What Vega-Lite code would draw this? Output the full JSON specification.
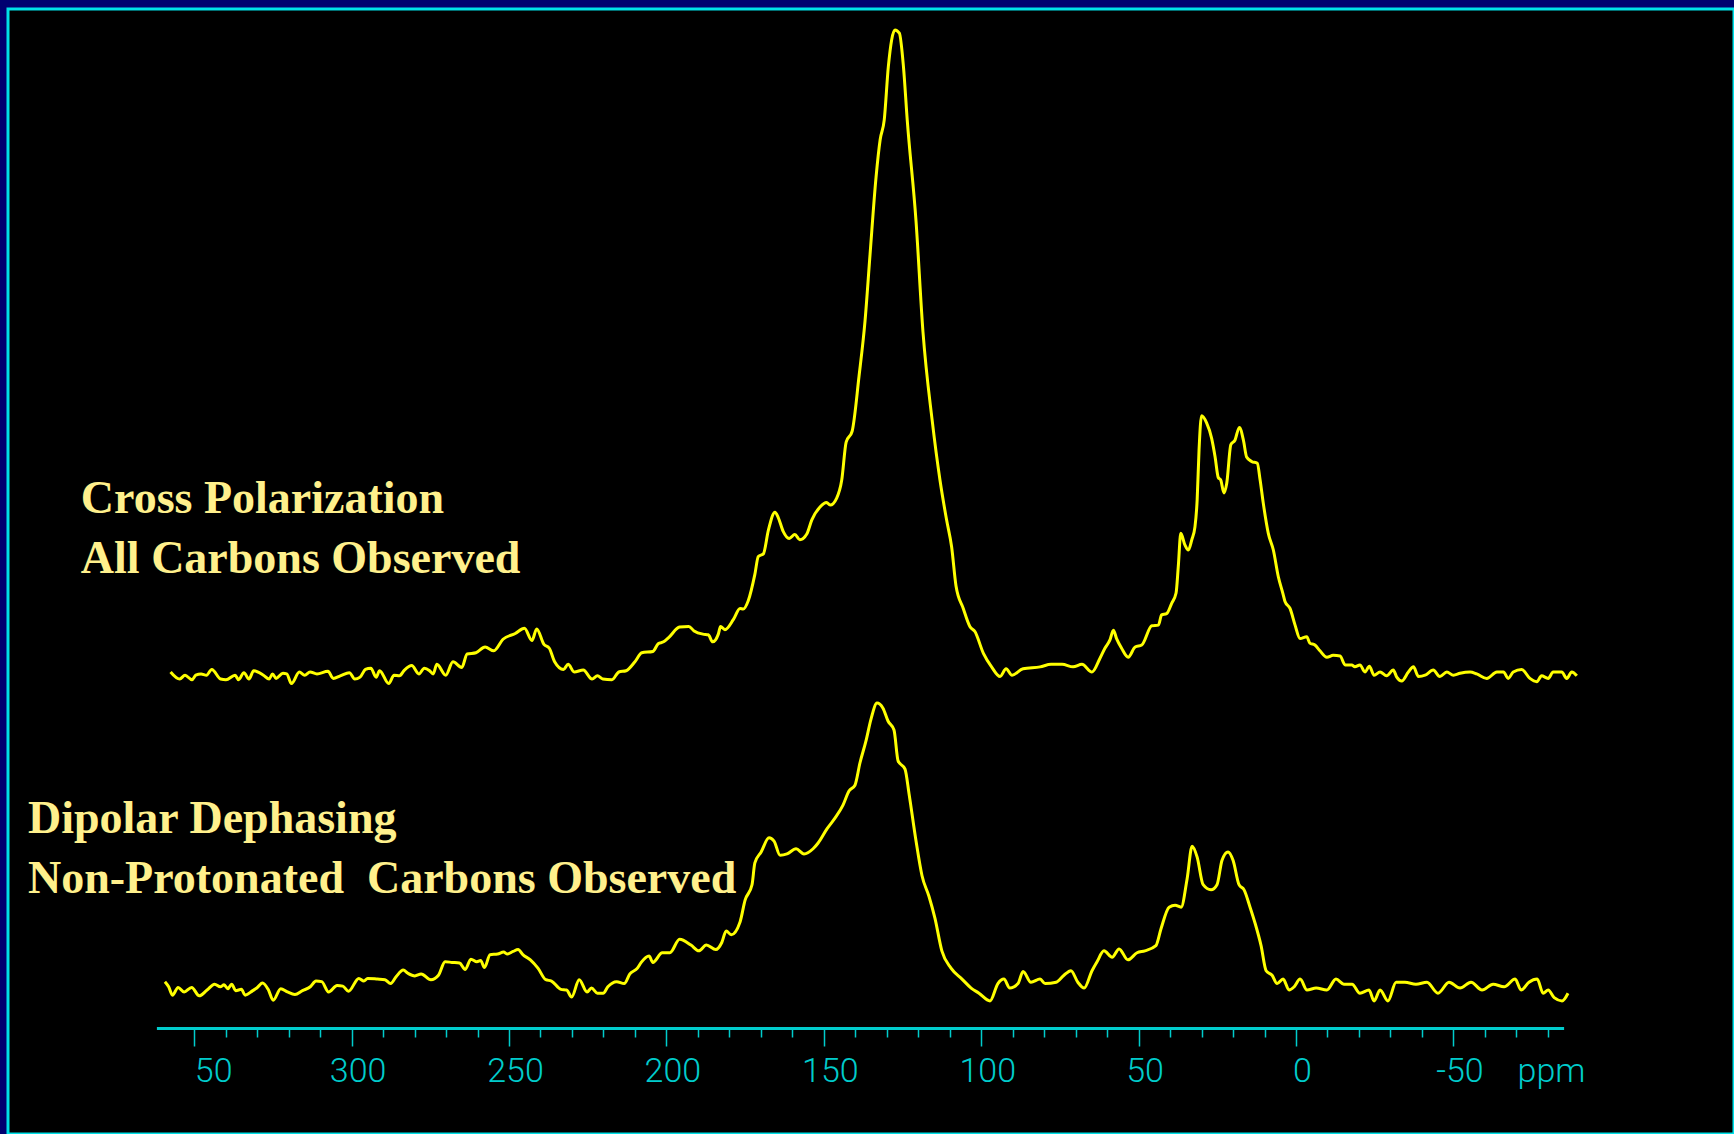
{
  "$schema": "https://vega.github.io/schema/vega-lite/v6.json",
  "width": 1726,
  "height": 1125,
  "autosize": "none",
  "padding": {"left": 8, "top": 9, "right": 0, "bottom": 0},
  "background": "#000070",
  "config": {"view": {"fill": "#000000", "stroke": "#00E0E8", "strokeWidth": 3}},
  "datasets": {
    "cp": [
      {"ppm":357.5,"I":0.0},{"ppm":354.6,"I":-1.1},{"ppm":352.9,"I":-0.5},{"ppm":350.7,"I":-1.2},{"ppm":349.5,"I":-0.5},{"ppm":347.8,"I":-0.3},{"ppm":346.1,"I":-0.5},{"ppm":344.4,"I":0.4},{"ppm":341.6,"I":-1.1},{"ppm":339.9,"I":-1.2},{"ppm":337.0,"I":-0.5},{"ppm":335.9,"I":-1.2},{"ppm":334.2,"I":-0.1},{"ppm":332.6,"I":-1.1},{"ppm":331.1,"I":0.2},{"ppm":328.0,"I":-0.5},{"ppm":326.2,"I":-1.1},{"ppm":325.1,"I":-0.3},{"ppm":324.0,"I":-1.0},{"ppm":321.8,"I":-0.2},{"ppm":320.6,"I":-0.3},{"ppm":319.1,"I":-1.8},{"ppm":316.6,"I":0.0},{"ppm":314.9,"I":-0.5},{"ppm":313.2,"I":0.0},{"ppm":311.0,"I":-0.3},{"ppm":307.5,"I":0.1},{"ppm":305.8,"I":-1.0},{"ppm":303.6,"I":-0.6},{"ppm":300.7,"I":-0.1},{"ppm":299.0,"I":-1.1},{"ppm":297.3,"I":-0.8},{"ppm":295.6,"I":0.4},{"ppm":293.9,"I":0.6},{"ppm":292.2,"I":-0.8},{"ppm":291.1,"I":0.2},{"ppm":288.2,"I":-1.8},{"ppm":286.5,"I":-0.5},{"ppm":284.8,"I":-0.6},{"ppm":283.2,"I":0.3},{"ppm":280.9,"I":1.0},{"ppm":278.6,"I":-0.3},{"ppm":276.9,"I":0.6},{"ppm":275.2,"I":0.2},{"ppm":274.1,"I":-0.3},{"ppm":272.9,"I":1.2},{"ppm":270.1,"I":-0.5},{"ppm":267.8,"I":1.6},{"ppm":265.0,"I":0.7},{"ppm":263.3,"I":2.8},{"ppm":260.5,"I":3.0},{"ppm":257.6,"I":3.9},{"ppm":254.8,"I":3.3},{"ppm":251.9,"I":5.1},{"ppm":248.0,"I":6.0},{"ppm":245.1,"I":6.8},{"ppm":242.7,"I":4.9},{"ppm":241.2,"I":6.7},{"ppm":238.9,"I":4.3},{"ppm":237.2,"I":3.7},{"ppm":235.5,"I":1.6},{"ppm":232.7,"I":0.4},{"ppm":231.2,"I":1.2},{"ppm":229.3,"I":0.0},{"ppm":226.4,"I":0.3},{"ppm":223.6,"I":-1.1},{"ppm":221.9,"I":-0.6},{"ppm":220.2,"I":-1.1},{"ppm":217.3,"I":-1.2},{"ppm":215.1,"I":0.0},{"ppm":212.8,"I":0.2},{"ppm":210.0,"I":1.6},{"ppm":207.8,"I":3.0},{"ppm":204.3,"I":3.2},{"ppm":202.6,"I":4.4},{"ppm":200.9,"I":4.7},{"ppm":199.2,"I":5.4},{"ppm":195.8,"I":7.0},{"ppm":192.9,"I":7.1},{"ppm":191.2,"I":6.4},{"ppm":188.4,"I":5.9},{"ppm":186.7,"I":5.8},{"ppm":185.3,"I":4.7},{"ppm":183.5,"I":5.9},{"ppm":182.8,"I":7.1},{"ppm":181.4,"I":6.6},{"ppm":178.7,"I":8.2},{"ppm":176.6,"I":9.9},{"ppm":175.6,"I":9.8},{"ppm":174.0,"I":11.1},{"ppm":171.9,"I":15.2},{"ppm":170.8,"I":18.0},{"ppm":169.2,"I":18.4},{"ppm":167.6,"I":22.1},{"ppm":165.5,"I":24.9},{"ppm":164.5,"I":24.1},{"ppm":162.9,"I":21.9},{"ppm":161.0,"I":20.8},{"ppm":159.2,"I":21.4},{"ppm":157.6,"I":20.6},{"ppm":155.4,"I":21.5},{"ppm":153.8,"I":23.7},{"ppm":151.2,"I":25.7},{"ppm":149.1,"I":26.4},{"ppm":148.0,"I":26.0},{"ppm":145.9,"I":27.1},{"ppm":144.3,"I":29.9},{"ppm":142.9,"I":35.8},{"ppm":141.0,"I":37.5},{"ppm":138.8,"I":46.1},{"ppm":136.9,"I":54.7},{"ppm":135.3,"I":65.1},{"ppm":133.4,"I":77.1},{"ppm":132.1,"I":82.9},{"ppm":130.8,"I":86.0},{"ppm":129.5,"I":94.3},{"ppm":127.4,"I":100.0},{"ppm":126.0,"I":99.5},{"ppm":124.7,"I":94.3},{"ppm":123.5,"I":86.0},{"ppm":120.7,"I":70.2},{"ppm":118.5,"I":53.0},{"ppm":115.6,"I":39.3},{"ppm":113.1,"I":29.9},{"ppm":111.0,"I":23.7},{"ppm":109.4,"I":19.5},{"ppm":108.0,"I":13.4},{"ppm":105.7,"I":9.9},{"ppm":103.6,"I":7.1},{"ppm":102.0,"I":6.3},{"ppm":99.3,"I":2.9},{"ppm":96.7,"I":0.8},{"ppm":94.0,"I":-0.7},{"ppm":92.1,"I":0.5},{"ppm":90.2,"I":-0.5},{"ppm":86.7,"I":0.5},{"ppm":81.3,"I":0.8},{"ppm":77.8,"I":1.2},{"ppm":74.3,"I":1.2},{"ppm":70.8,"I":0.8},{"ppm":68.0,"I":1.2},{"ppm":64.8,"I":0.0},{"ppm":62.3,"I":2.1},{"ppm":60.7,"I":3.7},{"ppm":59.1,"I":5.0},{"ppm":58.0,"I":6.5},{"ppm":57.0,"I":5.2},{"ppm":55.4,"I":3.7},{"ppm":53.3,"I":2.3},{"ppm":51.1,"I":3.9},{"ppm":49.0,"I":4.2},{"ppm":45.8,"I":7.2},{"ppm":43.7,"I":7.3},{"ppm":42.7,"I":8.9},{"ppm":41.1,"I":9.1},{"ppm":39.5,"I":10.7},{"ppm":38.1,"I":12.3},{"ppm":37.4,"I":16.4},{"ppm":36.6,"I":21.6},{"ppm":35.3,"I":19.8},{"ppm":34.2,"I":19.0},{"ppm":33.1,"I":20.6},{"ppm":32.1,"I":22.6},{"ppm":31.4,"I":26.8},{"ppm":30.8,"I":34.6},{"ppm":30.0,"I":39.9},{"ppm":28.4,"I":38.8},{"ppm":26.8,"I":36.4},{"ppm":25.7,"I":33.5},{"ppm":24.7,"I":30.3},{"ppm":23.9,"I":29.9},{"ppm":22.9,"I":27.9},{"ppm":22.0,"I":29.4},{"ppm":20.7,"I":35.4},{"ppm":19.4,"I":36.1},{"ppm":18.0,"I":38.1},{"ppm":16.7,"I":36.1},{"ppm":15.7,"I":33.5},{"ppm":14.1,"I":32.8},{"ppm":12.3,"I":32.5},{"ppm":11.4,"I":29.9},{"ppm":10.4,"I":26.3},{"ppm":8.8,"I":21.6},{"ppm":7.2,"I":19.0},{"ppm":5.6,"I":14.8},{"ppm":4.2,"I":12.3},{"ppm":3.5,"I":11.0},{"ppm":1.9,"I":9.9},{"ppm":0.3,"I":7.3},{"ppm":-1.3,"I":5.2},{"ppm":-3.4,"I":5.5},{"ppm":-4.4,"I":4.5},{"ppm":-6.0,"I":4.2},{"ppm":-7.6,"I":3.3},{"ppm":-9.8,"I":2.3},{"ppm":-11.8,"I":2.6},{"ppm":-14.0,"I":2.5},{"ppm":-15.6,"I":1.1},{"ppm":-17.7,"I":1.1},{"ppm":-18.7,"I":0.8},{"ppm":-20.3,"I":1.1},{"ppm":-21.9,"I":0.0},{"ppm":-23.3,"I":0.9},{"ppm":-24.8,"I":-0.5},{"ppm":-26.7,"I":0.0},{"ppm":-28.8,"I":-0.6},{"ppm":-30.9,"I":0.3},{"ppm":-32.0,"I":-0.8},{"ppm":-33.6,"I":-1.4},{"ppm":-35.7,"I":0.0},{"ppm":-37.3,"I":0.8},{"ppm":-38.9,"I":-0.7},{"ppm":-41.0,"I":-0.5},{"ppm":-43.6,"I":0.3},{"ppm":-45.7,"I":-0.7},{"ppm":-47.9,"I":0.0},{"ppm":-50.0,"I":-0.5},{"ppm":-52.1,"I":-0.2},{"ppm":-55.3,"I":0.0},{"ppm":-57.4,"I":-0.3},{"ppm":-60.6,"I":-1.0},{"ppm":-63.8,"I":0.0},{"ppm":-65.9,"I":0.0},{"ppm":-67.4,"I":-1.0},{"ppm":-69.0,"I":0.0},{"ppm":-71.7,"I":0.4},{"ppm":-74.3,"I":-1.0},{"ppm":-76.5,"I":-1.5},{"ppm":-78.0,"I":-0.6},{"ppm":-80.1,"I":-1.0},{"ppm":-81.7,"I":0.0},{"ppm":-84.4,"I":0.0},{"ppm":-86.0,"I":-1.0},{"ppm":-87.6,"I":0.0},{"ppm":-89.2,"I":-0.6}
    ],
    "dd": [
      {"ppm":359.3,"I":1.3},{"ppm":358.1,"I":0.5},{"ppm":356.9,"I":-0.8},{"ppm":355.1,"I":0.4},{"ppm":353.2,"I":-0.3},{"ppm":350.8,"I":0.4},{"ppm":348.4,"I":-0.9},{"ppm":345.9,"I":0.0},{"ppm":343.5,"I":0.9},{"ppm":341.7,"I":0.5},{"ppm":340.5,"I":0.8},{"ppm":339.3,"I":0.2},{"ppm":338.1,"I":0.9},{"ppm":336.8,"I":-0.1},{"ppm":335.0,"I":0.1},{"ppm":333.8,"I":-0.8},{"ppm":331.4,"I":-0.1},{"ppm":330.1,"I":0.3},{"ppm":328.3,"I":1.1},{"ppm":326.5,"I":0.1},{"ppm":324.9,"I":-1.6},{"ppm":322.5,"I":0.2},{"ppm":320.4,"I":-0.3},{"ppm":318.0,"I":-0.7},{"ppm":315.6,"I":-0.1},{"ppm":313.1,"I":0.5},{"ppm":311.3,"I":1.4},{"ppm":309.5,"I":1.3},{"ppm":307.3,"I":-0.3},{"ppm":304.6,"I":0.7},{"ppm":302.8,"I":0.6},{"ppm":301.0,"I":-0.2},{"ppm":297.7,"I":1.8},{"ppm":296.1,"I":1.4},{"ppm":294.9,"I":1.8},{"ppm":291.8,"I":1.7},{"ppm":289.4,"I":1.6},{"ppm":287.6,"I":1.0},{"ppm":285.8,"I":2.1},{"ppm":283.6,"I":3.1},{"ppm":282.1,"I":2.6},{"ppm":279.9,"I":2.2},{"ppm":277.9,"I":2.5},{"ppm":274.8,"I":1.6},{"ppm":272.4,"I":2.3},{"ppm":270.3,"I":4.4},{"ppm":268.1,"I":4.3},{"ppm":265.7,"I":4.2},{"ppm":263.9,"I":3.2},{"ppm":262.1,"I":4.8},{"ppm":260.2,"I":4.4},{"ppm":259.0,"I":4.6},{"ppm":257.8,"I":3.5},{"ppm":256.0,"I":5.5},{"ppm":253.6,"I":5.6},{"ppm":251.7,"I":5.9},{"ppm":250.5,"I":5.6},{"ppm":248.7,"I":6.0},{"ppm":247.1,"I":6.3},{"ppm":245.6,"I":5.5},{"ppm":243.2,"I":4.7},{"ppm":240.8,"I":3.4},{"ppm":238.3,"I":1.6},{"ppm":236.5,"I":1.4},{"ppm":233.5,"I":0.1},{"ppm":231.7,"I":0.0},{"ppm":230.1,"I":-1.1},{"ppm":227.7,"I":1.6},{"ppm":225.2,"I":-0.3},{"ppm":223.8,"I":0.3},{"ppm":221.9,"I":-0.5},{"ppm":220.1,"I":-0.5},{"ppm":218.6,"I":0.5},{"ppm":215.8,"I":1.3},{"ppm":213.4,"I":1.0},{"ppm":211.6,"I":2.5},{"ppm":209.2,"I":3.4},{"ppm":208.0,"I":4.3},{"ppm":205.5,"I":5.3},{"ppm":204.3,"I":4.3},{"ppm":201.3,"I":5.8},{"ppm":198.9,"I":5.8},{"ppm":195.8,"I":7.9},{"ppm":192.2,"I":7.0},{"ppm":189.7,"I":6.1},{"ppm":187.3,"I":7.0},{"ppm":184.3,"I":6.3},{"ppm":182.4,"I":7.4},{"ppm":181.0,"I":9.2},{"ppm":179.4,"I":8.6},{"ppm":176.6,"I":10.6},{"ppm":175.0,"I":14.0},{"ppm":172.8,"I":16.4},{"ppm":171.9,"I":19.8},{"ppm":169.9,"I":21.5},{"ppm":167.4,"I":23.7},{"ppm":165.8,"I":23.2},{"ppm":163.9,"I":21.0},{"ppm":161.7,"I":21.2},{"ppm":158.8,"I":22.0},{"ppm":156.3,"I":21.2},{"ppm":153.4,"I":22.0},{"ppm":151.8,"I":22.9},{"ppm":149.0,"I":25.1},{"ppm":146.4,"I":26.8},{"ppm":143.9,"I":28.8},{"ppm":142.0,"I":31.0},{"ppm":140.1,"I":31.9},{"ppm":138.5,"I":35.4},{"ppm":136.6,"I":38.8},{"ppm":135.0,"I":42.2},{"ppm":133.1,"I":44.7},{"ppm":131.2,"I":43.9},{"ppm":129.6,"I":41.9},{"ppm":127.7,"I":40.5},{"ppm":126.4,"I":35.7},{"ppm":124.2,"I":34.4},{"ppm":122.9,"I":30.5},{"ppm":120.7,"I":23.2},{"ppm":118.8,"I":17.8},{"ppm":116.6,"I":14.6},{"ppm":114.7,"I":11.2},{"ppm":112.5,"I":6.1},{"ppm":109.6,"I":3.4},{"ppm":106.1,"I":1.7},{"ppm":103.2,"I":0.3},{"ppm":100.7,"I":-0.5},{"ppm":97.2,"I":-1.7},{"ppm":94.7,"I":1.0},{"ppm":92.8,"I":1.7},{"ppm":90.9,"I":0.3},{"ppm":88.3,"I":1.0},{"ppm":86.7,"I":2.9},{"ppm":84.2,"I":1.2},{"ppm":81.3,"I":1.7},{"ppm":79.7,"I":1.0},{"ppm":76.2,"I":1.2},{"ppm":73.7,"I":2.3},{"ppm":71.5,"I":3.0},{"ppm":69.3,"I":1.2},{"ppm":67.3,"I":0.3},{"ppm":64.8,"I":3.0},{"ppm":63.2,"I":4.4},{"ppm":61.0,"I":6.1},{"ppm":58.4,"I":5.1},{"ppm":56.2,"I":6.4},{"ppm":53.4,"I":4.7},{"ppm":50.5,"I":5.8},{"ppm":48.0,"I":6.1},{"ppm":44.5,"I":6.9},{"ppm":42.9,"I":9.5},{"ppm":40.3,"I":12.9},{"ppm":38.4,"I":13.2},{"ppm":36.5,"I":12.9},{"ppm":34.6,"I":17.3},{"ppm":33.0,"I":22.4},{"ppm":31.4,"I":20.7},{"ppm":29.5,"I":16.4},{"ppm":27.0,"I":15.6},{"ppm":25.1,"I":16.4},{"ppm":23.5,"I":20.2},{"ppm":21.6,"I":21.5},{"ppm":20.0,"I":20.2},{"ppm":18.1,"I":16.4},{"ppm":16.5,"I":15.6},{"ppm":14.6,"I":12.9},{"ppm":13.0,"I":10.4},{"ppm":11.1,"I":6.9},{"ppm":9.5,"I":3.0},{"ppm":7.6,"I":2.3},{"ppm":6.0,"I":1.0},{"ppm":4.1,"I":1.7},{"ppm":2.2,"I":0.0},{"ppm":0.6,"I":0.5},{"ppm":-1.3,"I":1.7},{"ppm":-3.5,"I":0.0},{"ppm":-6.4,"I":0.3},{"ppm":-9.8,"I":0.0},{"ppm":-12.7,"I":1.7},{"ppm":-15.2,"I":0.9},{"ppm":-17.8,"I":0.9},{"ppm":-20.3,"I":-0.5},{"ppm":-23.2,"I":0.0},{"ppm":-24.8,"I":-1.7},{"ppm":-26.7,"I":0.0},{"ppm":-29.2,"I":-1.7},{"ppm":-31.8,"I":1.2},{"ppm":-34.6,"I":1.2},{"ppm":-38.1,"I":0.9},{"ppm":-41.6,"I":1.2},{"ppm":-45.1,"I":-0.5},{"ppm":-48.6,"I":1.2},{"ppm":-52.1,"I":0.3},{"ppm":-55.6,"I":1.2},{"ppm":-59.1,"I":0.0},{"ppm":-62.6,"I":0.9},{"ppm":-66.1,"I":0.5},{"ppm":-69.6,"I":1.7},{"ppm":-71.5,"I":0.0},{"ppm":-74.0,"I":1.2},{"ppm":-76.6,"I":1.7},{"ppm":-78.5,"I":-0.5},{"ppm":-80.1,"I":0.0},{"ppm":-82.0,"I":-1.2},{"ppm":-84.5,"I":-1.7},{"ppm":-86.4,"I":-0.5}
    ],
    "cpText": [
      {"ppm": 386.0, "I": 24.7, "label": "Cross Polarization"},
      {"ppm": 386.0, "I": 15.4, "label": "All Carbons Observed"}
    ],
    "ddText": [
      {"ppm": 402.8, "I": 24.5, "label": "Dipolar Dephasing"},
      {"ppm": 402.8, "I": 15.1, "label": "Non-Protonated \u00a0Carbons Observed"}
    ]
  },
  "encoding": {
    "x": {
      "field": "ppm",
      "type": "quantitative",
      "title": null,
      "scale": {"domain": [362, -85], "range": [148.4, 1555.6], "nice": false, "zero": false},
      "axis": {
        "values": [350,340,330,320,310,300,290,280,270,260,250,240,230,220,210,200,190,180,170,160,150,140,130,120,110,100,90,80,70,60,50,40,30,20,10,0,-10,-20,-30,-40,-50,-60,-70,-80,-81],
        "title": null,
        "grid": false,
        "offset": -106,
        "domainColor": "#00CCCC",
        "domainWidth": 3,
        "tickColor": "#00CCCC",
        "tickWidth": 1.5,
        "tickSize": {"condition": {"test": "datum.value % 50 == 0 || datum.value == -81", "value": 18}, "value": 9},
        "tickOpacity": {"condition": {"test": "datum.value == -81", "value": 0}, "value": 1},
        "labelExpr": "datum.value == 350 ? '50' : (datum.value == -81 ? 'ppm' : (datum.value % 50 == 0 ? '' + datum.value : ''))",
        "labelColor": "#00CCCC",
        "labelFont": "Roboto",
        "labelFontWeight": 300,
        "labelFontSize": 34,
        "labelPadding": 8,
        "labelOffset": {"condition": [{"test": "datum.value == 350", "value": 19}, {"test": "datum.value == -81", "value": 0}], "value": 6},
        "labelOverlap": false,
        "labelFlush": false,
        "labelBound": false
      }
    }
  },
  "layer": [
    {
      "layer": [
        {
          "data": {"name": "cp"},
          "mark": {"type": "line", "color": "#FFFF00", "strokeWidth": 3, "strokeJoin": "round", "interpolate": "monotone"},
          "encoding": {
            "y": {"field": "I", "type": "quantitative", "title": null, "axis": null, "scale": {"domain": [0, 100], "range": [663, 21], "nice": false, "zero": false}}
          }
        },
        {
          "data": {"name": "cpText"},
          "mark": {"type": "text", "align": "left", "baseline": "alphabetic", "font": "Liberation Serif", "fontWeight": "bold", "fontSize": 46, "color": "#FFF08C"},
          "encoding": {
            "y": {"field": "I", "type": "quantitative", "title": null, "axis": null},
            "text": {"field": "label"}
          }
        }
      ]
    },
    {
      "layer": [
        {
          "data": {"name": "dd"},
          "mark": {"type": "line", "color": "#FFFF00", "strokeWidth": 3, "strokeJoin": "round", "interpolate": "monotone"},
          "encoding": {
            "y": {"field": "I", "type": "quantitative", "title": null, "axis": null, "scale": {"domain": [0, 100], "range": [981, 339], "nice": false, "zero": false}}
          }
        },
        {
          "data": {"name": "ddText"},
          "mark": {"type": "text", "align": "left", "baseline": "alphabetic", "font": "Liberation Serif", "fontWeight": "bold", "fontSize": 46, "color": "#FFF08C"},
          "encoding": {
            "y": {"field": "I", "type": "quantitative", "title": null, "axis": null},
            "text": {"field": "label"}
          }
        }
      ]
    }
  ],
  "resolve": {"scale": {"y": "independent"}}
}
